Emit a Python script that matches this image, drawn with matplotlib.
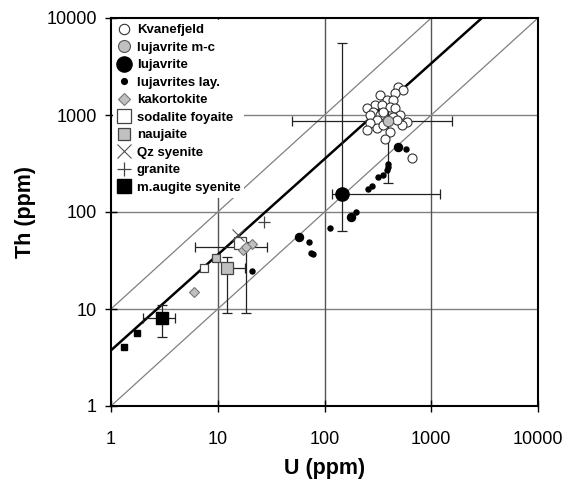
import numpy as np
import matplotlib
matplotlib.use("Agg")
import matplotlib.pyplot as plt

plt.rcParams['font.family'] = ['Liberation Sans', 'DejaVu Sans']

# Kvanefjeld samples (U, Th in ppm)
kv_u = [493, 549, 459, 332, 384, 442, 298, 249, 344, 412, 459, 287, 267, 332, 511,
        591, 530, 309, 267, 249, 309, 356, 412, 370, 442, 356, 658, 476]
kv_th = [1959, 1811, 1675, 1608, 1429, 1429, 1268, 1172, 1268, 1218, 1172, 1082, 1000, 1000, 1000,
         853, 788, 888, 821, 700, 729, 788, 673, 561, 961, 1082, 358, 888]

# lujavrite m-c (mean with error)
lmc_u, lmc_th = [397], [874]
lmc_uerr = [[347], [1163]]
lmc_therr = [[674], [300]]

# lujavrite: mean with error + samples
luj_u, luj_th = [147], [152]
luj_uerr = [[30], [1064]]
luj_therr = [[89], [5318]]
luj_s_u = [58.2, 176, 493]
luj_s_th = [55.6, 89.5, 464]

# lujavrites lay.
lay_u = [582, 397, 384, 352, 320, 278, 258, 198, 113, 72.2, 74.4, 78.7, 20.8, 397]
lay_th = [446, 313, 271, 241, 231, 185, 171, 101, 67.9, 48.7, 38.1, 36.6, 24.7, 289]

# kakortokite
kak_u, kak_th = [18.3], [43.6]
kak_uerr = [[12.2], [10.9]]
kak_therr = [[34.6], [6]]
kak_s_u = [6.04, 20.8, 17.4]
kak_s_th = [15.1, 46.8, 40.6]

# sodalite foyaite
sod_u, sod_th = [16.2], [48.3]
sod_s_u, sod_s_th = [7.44], [26.3]

# naujaite
nau_u, nau_th = [12.1], [26.3]
nau_uerr = [[0.5], [5.9]]
nau_therr = [[17.3], [8.3]]
nau_s_u, nau_s_th = [9.64], [33.3]

# Qz syenite, granite
qz_u, qz_th = [15.6], [57.9]
gr_u, gr_th = [27.2], [78.0]

# m.augite syenite
mau_u, mau_th = [2.99], [8.02]
mau_uerr = [[0.99], [0.99]]
mau_therr = [[2.9], [3.0]]
mau_s_u = [1.76, 1.32]
mau_s_th = [5.62, 4.09]

# reference lines Th/U
ref_u = [1, 10000]
ref1_th = [1, 10000]
ref10_u = [1, 1000]
ref10_th = [10, 10000]
fit_u = [1, 2980]
fit_th = [3.75, 10000]

fig = plt.figure(figsize=(5.65, 4.82), dpi=100)
ax = fig.add_axes([111/565, 1-406/482, (538-111)/565, (406-18)/482])
ax.set_xscale('log')
ax.set_yscale('log')
ax.set_xlim(1, 10000)
ax.set_ylim(1, 10000)

for v in [10, 100, 1000]:
    ax.axvline(v, color='#555555', lw=1, zorder=1)
    ax.axhline(v, color='#808080', lw=1, zorder=1)

ax.plot(ref_u, ref1_th, color='#808080', lw=0.9, zorder=2)
ax.plot(ref10_u, ref10_th, color='#808080', lw=0.9, zorder=2)
ax.plot(fit_u, fit_th, color='black', lw=1.8, zorder=2)

eb = dict(fmt='none', ecolor='#222222', elinewidth=0.9, capsize=3.5, capthick=0.9, zorder=3)
ax.errorbar(lmc_u, lmc_th, xerr=lmc_uerr, yerr=lmc_therr, **eb)
ax.errorbar(luj_u, luj_th, xerr=luj_uerr, yerr=luj_therr, **eb)
ax.errorbar(kak_u, kak_th, xerr=kak_uerr, yerr=kak_therr, **eb)
ax.errorbar(nau_u, nau_th, xerr=nau_uerr, yerr=nau_therr, **eb)
ax.errorbar(mau_u, mau_th, xerr=mau_uerr, yerr=mau_therr, **eb)

edge = '#333333'
gray = '#c0c0c0'
h_kv, = ax.plot(kv_u, kv_th, 'o', ms=6.5, mfc='white', mec=edge, mew=0.8, ls='none', zorder=4)
h_lmc, = ax.plot(lmc_u, lmc_th, 'o', ms=7.5, mfc=gray, mec='#555555', mew=0.8, ls='none', zorder=5)
h_luj, = ax.plot(luj_u, luj_th, 'o', ms=9.5, mfc='black', mec='black', ls='none', zorder=5)
ax.plot(luj_s_u, luj_s_th, 'o', ms=5.8, mfc='black', mec='black', ls='none', zorder=5)
h_lay, = ax.plot(lay_u, lay_th, 'o', ms=3.6, mfc='black', mec='black', ls='none', zorder=5)
h_kak, = ax.plot(kak_s_u, kak_s_th, 'D', ms=5.0, mfc=gray, mec='#777777', mew=0.8, ls='none', zorder=5)
ax.plot(kak_u, kak_th, 'D', ms=5.0, mfc=gray, mec='#777777', mew=0.8, ls='none', zorder=5)
h_sod, = ax.plot(sod_u, sod_th, 's', ms=9.3, mfc='white', mec='#444444', mew=0.9, ls='none', zorder=4)
ax.plot(sod_s_u, sod_s_th, 's', ms=5.2, mfc='white', mec='#444444', mew=0.9, ls='none', zorder=4)
h_nau, = ax.plot(nau_u, nau_th, 's', ms=8.0, mfc=gray, mec='#444444', mew=0.9, ls='none', zorder=5)
ax.plot(nau_s_u, nau_s_th, 's', ms=5.2, mfc=gray, mec='#444444', mew=0.9, ls='none', zorder=5)
h_qz, = ax.plot(qz_u, qz_th, 'x', ms=9, mec='#555555', mew=0.8, ls='none', zorder=5)
h_gr, = ax.plot(gr_u, gr_th, '+', ms=9, mec='#444444', mew=0.9, ls='none', zorder=5)
h_mau, = ax.plot(mau_u, mau_th, 's', ms=8.5, mfc='black', mec='black', ls='none', zorder=5)
ax.plot(mau_s_u, mau_s_th, 's', ms=5.0, mfc='black', mec='black', ls='none', zorder=5)

ticks = [1, 10, 100, 1000, 10000]
ax.set_xticks(ticks)
ax.set_xticklabels([str(t) for t in ticks])
ax.set_yticks(ticks)
ax.set_yticklabels([str(t) for t in ticks])
ax.minorticks_off()
ax.tick_params(direction='inout', length=8, width=1, labelsize=13)
ax.tick_params(axis='x', pad=14)
ax.tick_params(axis='y', pad=6)
for s in ax.spines.values():
    s.set_linewidth(1.5)

ax.set_xlabel('U (ppm)', fontsize=15.5, fontweight='bold', labelpad=7)
ax.set_ylabel('Th (ppm)', fontsize=15.5, fontweight='bold', labelpad=8)

handles = [h_kv, h_lmc, h_luj, h_lay, h_kak, h_sod, h_nau, h_qz, h_gr, h_mau]
labels = ['Kvanefjeld', 'lujavrite m-c', 'lujavrite', 'lujavrites lay.', 'kakortokite',
          'sodalite foyaite', 'naujaite', 'Qz syenite', 'granite', 'm.augite syenite']
leg = ax.legend(handles, labels, loc='upper left', bbox_to_anchor=(2/427, 1-2/388),
                frameon=True, facecolor='white', edgecolor='none', framealpha=1,
                fancybox=False, borderpad=0.3, borderaxespad=0, labelspacing=0.4,
                handlelength=1.1, handletextpad=0.4, markerscale=1.15,
                prop={'weight': 'bold', 'size': 9.5})
leg.set_zorder(6)

fig.savefig('out.png', dpi=100)
